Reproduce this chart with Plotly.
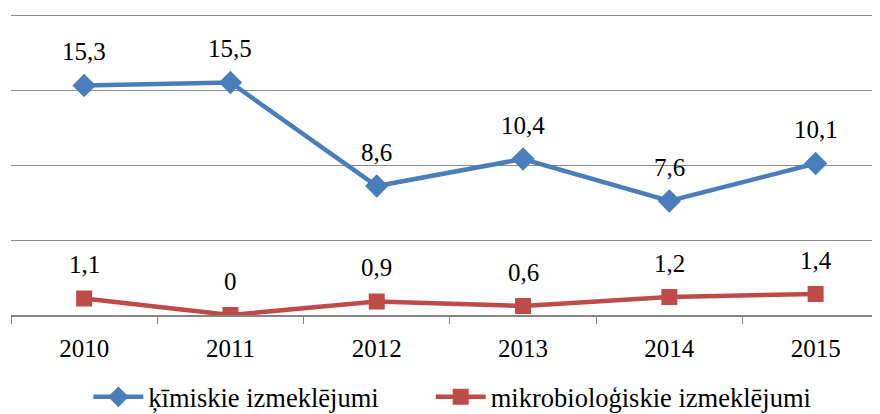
import plotly.graph_objects as go

# dati
gadi = ["2010", "2011", "2012", "2013", "2014", "2015"]
kimiskie = [15.3, 15.5, 8.6, 10.4, 7.6, 10.1]
mikrobiologiskie = [1.1, 0, 0.9, 0.6, 1.2, 1.4]

zils = "#4A7EBB"
sarkans = "#BE4B48"
fonts = "Times New Roman, Liberation Serif, serif"


def etikete(v):
    # komats kā decimāldaļas atdalītājs
    return f"{v:g}".replace(".", ",")


fig = go.Figure()
fig.add_trace(go.Scatter(
    x=gadi, y=kimiskie, name="ķīmiskie izmeklējumi", mode="lines+markers",
    line=dict(color=zils, width=4.5),
    marker=dict(symbol="diamond", size=18, color=zils),
    legend="legend",
))
fig.add_trace(go.Scatter(
    x=gadi, y=mikrobiologiskie, name="mikrobioloģiskie izmeklējumi", mode="lines+markers",
    line=dict(color=sarkans, width=4.5),
    marker=dict(symbol="square", size=16, color=sarkans),
    legend="legend2",
))

# vērtību etiķetes virs punktiem
anotacijas = []
for serija in (kimiskie, mikrobiologiskie):
    for i, v in enumerate(serija):
        anotacijas.append(dict(x=i, y=v, xref="x", yref="y", text=etikete(v),
                               showarrow=False, yshift=34,
                               font=dict(size=25, color="black", family=fonts)))

leg = dict(orientation="h", y=-0.19, yanchor="top", xanchor="left",
           font=dict(size=26.5, family=fonts), itemwidth=50)

fig.update_layout(
    width=872, height=406,
    margin=dict(l=3, r=0, t=1, b=99, autoexpand=False),
    paper_bgcolor="white", plot_bgcolor="white",
    font=dict(family=fonts, size=25, color="black"),
    annotations=anotacijas,
    showlegend=True,
    legend=dict(leg, x=0.089),
    legend2=dict(leg, x=0.483),
)
fig.update_xaxes(
    type="category", range=[-0.5, 5.44],
    showline=True, linecolor="#868686", linewidth=1.5,
    ticks="outside", tickson="boundaries", ticklen=7, tickcolor="#868686",
    showgrid=False, tickfont=dict(size=25, family=fonts), ticklabelstandoff=10,
)
fig.update_yaxes(
    range=[0, 20.4], tickvals=[5, 10, 15, 20], showticklabels=False, zeroline=False,
    showgrid=True, gridcolor="#8C8C8C", gridwidth=1.3,
)

fig.write_html("out.html")
